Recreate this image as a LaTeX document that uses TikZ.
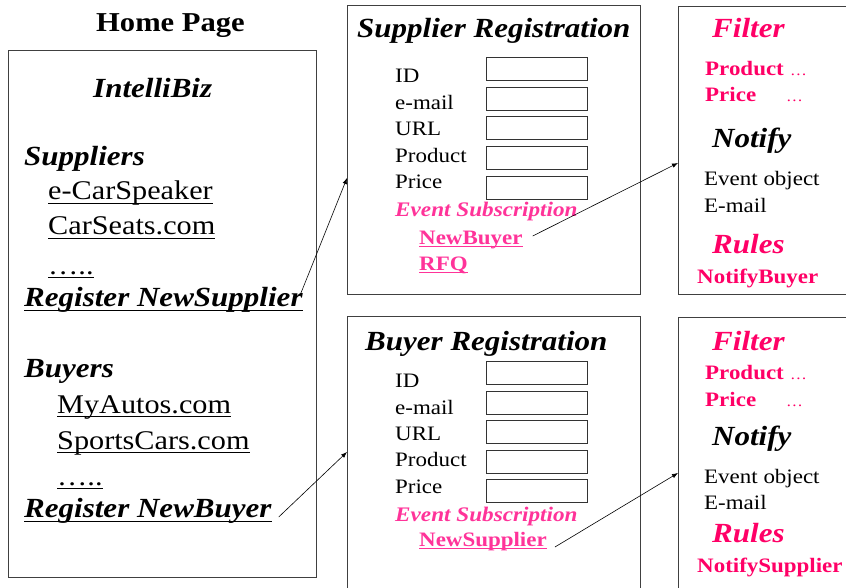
\documentclass[tikz,border=0pt]{standalone}
\usepackage{fontspec}
\setmainfont[FakeStretch=1.12]{Liberation Serif}
\usetikzlibrary{arrows.meta}
\definecolor{evpink}{HTML}{FF3399}
\definecolor{rulepink}{HTML}{FF0066}
\definecolor{edge}{HTML}{404040}
% underline at a fixed depth below the baseline
\newcommand\uln[1]{\setbox0\hbox{#1}\rlap{\rule[-0.16em]{\wd0}{0.9pt}}\box0}
\begin{document}
\begin{tikzpicture}[x=1pt,y=-1pt,
  panel/.style={draw=edge, line width=0.9pt, inner sep=0pt, anchor=north west},
  field/.style={draw=black!80, line width=0.9pt, inner sep=0pt, anchor=north west,
                minimum width=101pt, minimum height=23pt},
  txt/.style={anchor=base west, inner sep=0pt},
  hd/.style={txt, font=\fontsize{27.3}{30}\selectfont\bfseries},
  hdbi/.style={txt, font=\fontsize{27.7}{30}\selectfont\bfseries\itshape},
  hdrm/.style={txt, font=\fontsize{27}{30}\selectfont},
  lab/.style={txt, font=\fontsize{20.5}{24}\selectfont},
  labb/.style={txt, font=\fontsize{20.5}{24}\selectfont\bfseries},
  labbi/.style={txt, font=\fontsize{20.7}{24}\selectfont\bfseries\itshape},
  dots/.style={txt, font=\fontsize{15}{18}\selectfont, text=rulepink},
  arr/.style={-{Latex[length=6pt,width=4.5pt]}, line width=0.6pt},
]
\useasboundingbox (0,0) rectangle (846,588);

% ---------- panels ----------
\node[panel, minimum width=308pt, minimum height=527pt] (home) at (8,50) {};
\node[panel, minimum width=293pt, minimum height=289pt] (sreg) at (347,5) {};
\node[panel, minimum width=293pt, minimum height=290pt] (breg) at (347,316) {};
\node[panel, minimum width=190pt, minimum height=288pt] (sfil) at (678,6) {};
\node[panel, minimum width=190pt, minimum height=290pt] (bfil) at (678,317) {};

% ---------- home page ----------
\node[hd] (hometitle) at (96,32) {Home Page};
\node[hdbi] (brand) at (93,98) {IntelliBiz};
\node[hdbi] (suphd) at (24,166) {Suppliers};
\node[hdrm] (sup1) at (48,200) {\uln{e-CarSpeaker}};
\node[hdrm] (sup2) at (48,235) {\uln{CarSeats.com}};
\node[hdrm] (sup3) at (48,274) {\uln{…..}};
\node[hdbi] (regsup) at (24,306) {\uln{Register NewSupplier}};
\node[hdbi] (buyhd) at (24,377) {Buyers};
\node[hdrm] (buy1) at (57,413) {\uln{MyAutos.com}};
\node[hdrm] (buy2) at (57,449) {\uln{SportsCars.com}};
\node[hdrm] (buy3) at (57,485) {\uln{…..}};
\node[hdbi] (regbuy) at (24,517) {\uln{Register NewBuyer}};

% ---------- supplier registration ----------
\node[hdbi] (srtitle) at (357,38) {Supplier Registration};
\node[lab] (sid)  at (395,83)  {ID};
\node[lab] (smail) at (395,110) {e-mail};
\node[lab] (surl) at (395,136) {URL};
\node[lab] (sprod) at (395,163) {Product};
\node[lab] (sprice) at (395,189) {Price};
\node[field] (sf1) at (486,57) {};
\node[field] (sf2) at (486,87) {};
\node[field] (sf3) at (486,116) {};
\node[field] (sf4) at (486,146) {};
\node[field] (sf5) at (486,176) {};
\node[labbi, text=evpink] (sev) at (395,217) {Event Subscription};
\node[labb, text=evpink] (snb) at (419,244) {\uln{NewBuyer}};
\node[labb, text=evpink] (srfq) at (419,270) {\uln{RFQ}};

% ---------- buyer registration ----------
\node[hdbi] (brtitle) at (365,350) {Buyer Registration};
\node[lab] (bid)  at (395,387) {ID};
\node[lab] (bmail) at (395,414) {e-mail};
\node[lab] (burl) at (395,440) {URL};
\node[lab] (bprod) at (395,466) {Product};
\node[lab] (bprice) at (395,493) {Price};
\node[field] (bf1) at (486,361) {};
\node[field] (bf2) at (486,391) {};
\node[field] (bf3) at (486,420) {};
\node[field] (bf4) at (486,450) {};
\node[field] (bf5) at (486,479) {};
\node[labbi, text=evpink] (bev) at (395,521) {Event Subscription};
\node[labb, text=evpink] (bns) at (419,546) {\uln{NewSupplier}};

% ---------- supplier-side filter / notify / rules ----------
\node[hdbi, text=rulepink] (sfilt) at (712,38) {Filter};
\node[labb, text=rulepink] (sfprod) at (705,76) {Product};
\node[dots] (sfpd) at (790,76) {…};
\node[labb, text=rulepink] (sfprice) at (705,102) {Price};
\node[dots] (sfpr) at (786,102) {…};
\node[hdbi] (snot) at (712,148) {Notify};
\node[lab] (sobj) at (704,186) {Event object};
\node[lab] (semail) at (704,213) {E-mail};
\node[hdbi, text=rulepink] (srules) at (712,253) {Rules};
\node[labb, text=rulepink] (snotb) at (697,283) {NotifyBuyer};

% ---------- buyer-side filter / notify / rules ----------
\node[hdbi, text=rulepink] (bfilt) at (712,350) {Filter};
\node[labb, text=rulepink] (bfprod) at (705,379) {Product};
\node[dots] (bfpd) at (790,379) {…};
\node[labb, text=rulepink] (bfprice) at (705,406) {Price};
\node[dots] (bfpr) at (786,406) {…};
\node[hdbi] (bnot) at (712,445) {Notify};
\node[lab] (bobj) at (704,483) {Event object};
\node[lab] (bemail) at (704,509) {E-mail};
\node[hdbi, text=rulepink] (brules) at (712,542) {Rules};
\node[labb, text=rulepink] (bnots) at (697,572) {NotifySupplier};

% ---------- connectors ----------
\coordinate (sregin) at (347,178);
\coordinate (bregin) at (347,452);
\coordinate (sfilin) at (678,163);
\coordinate (bfilin) at (678,473);
\draw[arr] ([xshift=-3pt,yshift=10pt]regsup.base east) -- (sregin);
\draw[arr] ([xshift=7pt]regbuy.base east) -- (bregin);
\draw[arr] ([xshift=10pt,yshift=8pt]snb.base east) -- (sfilin);
\draw[arr] ([xshift=8pt,yshift=-1pt]bns.base east) -- (bfilin);
\end{tikzpicture}
\end{document}
